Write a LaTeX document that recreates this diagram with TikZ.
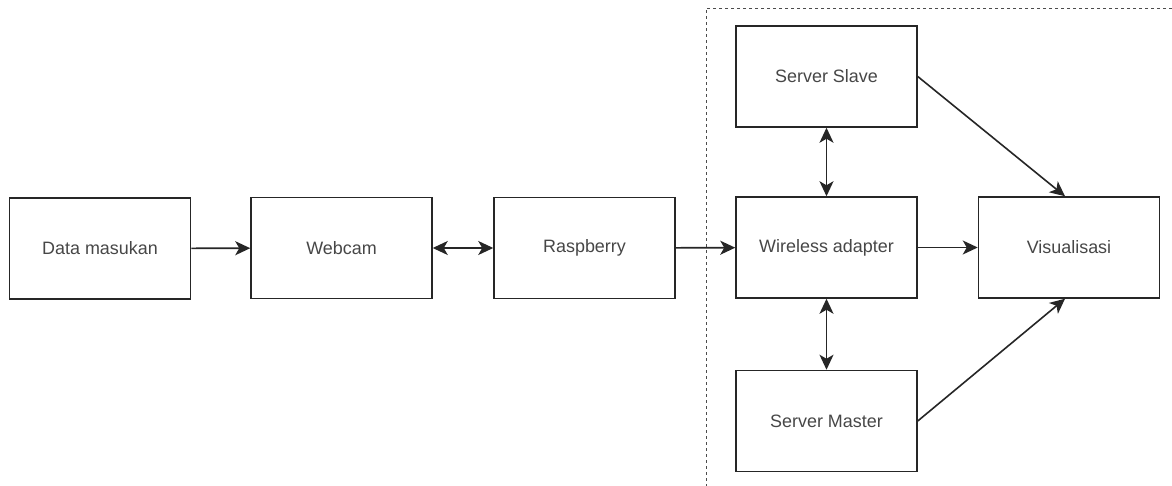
\documentclass[tikz,border=0pt]{standalone}
\usepackage{fontspec}
\setmainfont{Liberation Sans}
\usetikzlibrary{arrows.meta}
\begin{document}
\begin{tikzpicture}[x=1bp,y=-1bp,
 box/.style={draw=black!85, line width=1.5bp, minimum width=181bp, minimum height=101bp, inner sep=0pt, font=\fontsize{18}{21}\selectfont, text=black!72},
 tip/.tip={Stealth[length=15bp,width=14bp,inset=4bp]},
 conn/.style={line width=1.6bp, draw=black!85, -tip},
 biconn/.style={line width=1.6bp, draw=black!85, tip-tip},
 frame/.style={draw=black!70, line width=0.9bp, dash pattern=on 3bp off 3bp}]
\clip (0,0) rectangle (1172,486);
\fill[white] (0,0) rectangle (1172,486);
\draw[frame] (1172,8) -- (706,8) -- (706,486);
\node[box] (data) at (100,248.5) {Data masukan};
\node[box] (webcam) at (341.5,248) {Webcam};
\node[box] (rasp) at (584.5,248) {Raspberry};
\node[box] (wifi) at (826.5,247.5) {Wireless adapter};
\node[box] (vis) at (1069,247.5) {Visualisasi};
\node[box] (slave) at (826.5,76.5) {Server Slave};
\node[box] (master) at (826.5,421) {Server Master};
\draw[conn] (data) -- (webcam);
\draw[biconn] (webcam) -- (rasp);
\draw[conn] (rasp) -- (wifi);
\draw[conn] (wifi) -- (vis);
\draw[biconn] (slave) -- (wifi);
\draw[biconn] (wifi) -- (master);
\draw[conn] (slave.east) -- ([xshift=-4bp]vis.north);
\draw[conn] (master.east) -- ([xshift=-4bp]vis.south);
\end{tikzpicture}
\end{document}
